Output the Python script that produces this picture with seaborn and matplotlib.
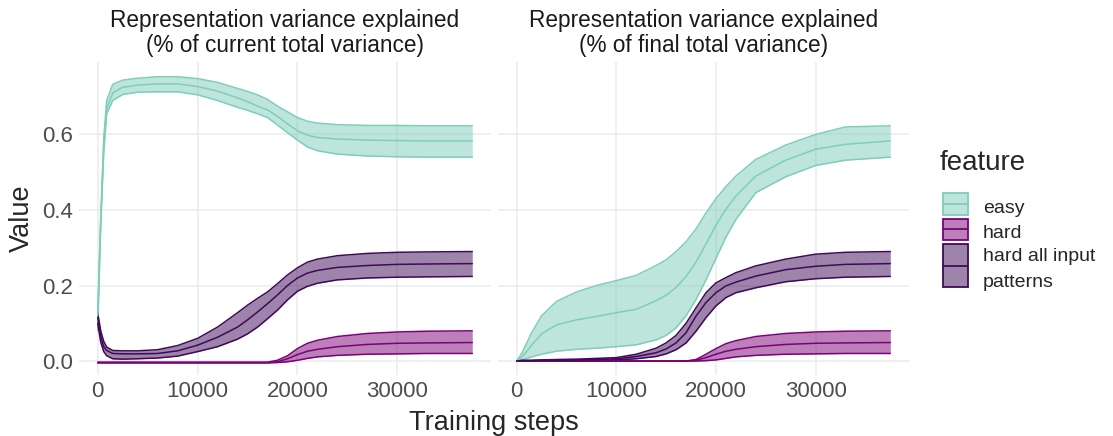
import numpy as np
import pandas as pd
import matplotlib
matplotlib.use("Agg")
import matplotlib.pyplot as plt
import seaborn as sns
from matplotlib.patches import Rectangle
from matplotlib.lines import Line2D
from matplotlib.colors import to_rgba

# Data
steps = [0, 300, 600, 900, 1500, 2500, 4000, 6000, 8000, 10000, 12000, 14000, 15000,
         16000, 17000, 18000, 19000, 20000, 21000, 22000, 24000, 27000, 30000, 33000, 37500]

features = ["easy", "hard", "hard all input\npatterns"]
panel_titles = ["Representation variance explained\n(% of current total variance)",
                "Representation variance explained\n(% of final total variance)"]

# panel 1: % of current total variance
cur_easy_mean = [0.12, 0.37, 0.57, 0.67, 0.71, 0.725, 0.731, 0.734, 0.734, 0.727, 0.715, 0.697, 0.687,
                 0.675, 0.665, 0.648, 0.628, 0.61, 0.598, 0.592, 0.588, 0.585, 0.584, 0.583, 0.583]
cur_easy_hi = [0.13, 0.38, 0.59, 0.69, 0.733, 0.744, 0.749, 0.753, 0.753, 0.748, 0.738, 0.722, 0.714,
               0.705, 0.693, 0.675, 0.66, 0.645, 0.635, 0.63, 0.626, 0.624, 0.624, 0.623, 0.623]
cur_easy_lo = [0.08, 0.36, 0.55, 0.655, 0.69, 0.706, 0.712, 0.713, 0.713, 0.705, 0.69, 0.672, 0.664,
               0.655, 0.645, 0.625, 0.605, 0.585, 0.567, 0.557, 0.548, 0.543, 0.541, 0.540, 0.540]

cur_hard_mean = [-0.004, -0.004, -0.004, -0.004, -0.004, -0.004, -0.004, -0.004, -0.004, -0.004, -0.004, -0.004, -0.004,
                 -0.004, -0.004, -0.002, 0.006, 0.017, 0.026, 0.031, 0.038, 0.044, 0.047, 0.048, 0.049]
cur_hard_hi = [-0.003, -0.003, -0.003, -0.003, -0.003, -0.003, -0.003, -0.003, -0.003, -0.003, -0.003, -0.003, -0.003,
               -0.003, -0.003, 0.002, 0.014, 0.033, 0.047, 0.055, 0.065, 0.073, 0.077, 0.079, 0.08]
cur_hard_lo = [-0.005, -0.005, -0.005, -0.005, -0.005, -0.005, -0.005, -0.005, -0.005, -0.005, -0.005, -0.005, -0.005,
               -0.005, -0.005, -0.004, -0.002, 0.002, 0.007, 0.011, 0.015, 0.018, 0.019, 0.02, 0.02]

cur_all_mean = [0.115, 0.065, 0.038, 0.028, 0.02, 0.019, 0.019, 0.02, 0.027, 0.042, 0.063, 0.09, 0.109,
                0.13, 0.152, 0.175, 0.2, 0.22, 0.233, 0.24, 0.248, 0.253, 0.256, 0.257, 0.258]
cur_all_hi = [0.127, 0.08, 0.052, 0.037, 0.028, 0.027, 0.027, 0.03, 0.041, 0.06, 0.09, 0.128, 0.148,
              0.166, 0.183, 0.205, 0.228, 0.247, 0.262, 0.27, 0.279, 0.285, 0.288, 0.289, 0.29]
cur_all_lo = [0.1, 0.05, 0.025, 0.014, 0.006, 0.005, 0.006, 0.008, 0.013, 0.025, 0.038, 0.058, 0.072,
              0.09, 0.112, 0.135, 0.162, 0.185, 0.198, 0.206, 0.215, 0.22, 0.222, 0.223, 0.224]

# panel 2: % of final total variance
fin_easy_mean = [0.0, 0.006, 0.013, 0.022, 0.042, 0.072, 0.096, 0.109, 0.118, 0.128, 0.137, 0.16, 0.174,
                 0.195, 0.224, 0.262, 0.31, 0.36, 0.402, 0.437, 0.49, 0.532, 0.561, 0.574, 0.583]
fin_easy_hi = [0.0, 0.012, 0.025, 0.042, 0.075, 0.12, 0.158, 0.183, 0.2, 0.213, 0.227, 0.253, 0.268,
               0.29, 0.316, 0.35, 0.392, 0.43, 0.462, 0.49, 0.534, 0.572, 0.6, 0.62, 0.623]
fin_easy_lo = [0.0, 0.002, 0.004, 0.006, 0.011, 0.018, 0.026, 0.031, 0.034, 0.038, 0.043, 0.056, 0.068,
               0.088, 0.12, 0.163, 0.215, 0.272, 0.328, 0.375, 0.446, 0.488, 0.518, 0.532, 0.54]

fin_hard_mean = [0.0, 0.0, 0.0, 0.0, 0.0, 0.0, 0.0, 0.0, 0.0, 0.0, 0.0, 0.0, 0.0,
                 0.0, 0.0, 0.002, 0.009, 0.018, 0.026, 0.031, 0.038, 0.044, 0.047, 0.048, 0.049]
fin_hard_hi = [0.0, 0.0, 0.0, 0.0, 0.0, 0.0, 0.0, 0.0, 0.0, 0.0, 0.0, 0.0, 0.0,
               0.0, 0.0, 0.004, 0.018, 0.033, 0.046, 0.054, 0.065, 0.073, 0.077, 0.079, 0.08]
fin_hard_lo = [0.0, 0.0, 0.0, 0.0, 0.0, 0.0, 0.0, 0.0, 0.0, 0.0, 0.0, 0.0, 0.0,
               0.0, 0.0, 0.0, 0.001, 0.003, 0.007, 0.011, 0.015, 0.018, 0.019, 0.02, 0.02]

fin_all_mean = [0.0, 0.001, 0.001, 0.001, 0.001, 0.002, 0.002, 0.003, 0.004, 0.006, 0.012, 0.022, 0.032,
                0.048, 0.075, 0.119, 0.155, 0.181, 0.199, 0.209, 0.225, 0.242, 0.251, 0.256, 0.258]
fin_all_hi = [0.0, 0.001, 0.002, 0.002, 0.002, 0.003, 0.004, 0.005, 0.007, 0.009, 0.018, 0.034, 0.048,
              0.068, 0.1, 0.141, 0.181, 0.207, 0.221, 0.234, 0.252, 0.27, 0.283, 0.288, 0.29]
fin_all_lo = [0.0, 0.0, 0.0, 0.0, 0.001, 0.001, 0.001, 0.001, 0.002, 0.003, 0.006, 0.012, 0.019,
              0.03, 0.048, 0.079, 0.115, 0.146, 0.168, 0.181, 0.194, 0.21, 0.218, 0.222, 0.224]

colors = {"easy": "#7fcdbb", "hard": "#7a0177", "hard all input\npatterns": "#3f0a58"}

panels = [
    {"easy": (cur_easy_mean, cur_easy_lo, cur_easy_hi),
     "hard": (cur_hard_mean, cur_hard_lo, cur_hard_hi),
     "hard all input\npatterns": (cur_all_mean, cur_all_lo, cur_all_hi)},
    {"easy": (fin_easy_mean, fin_easy_lo, fin_easy_hi),
     "hard": (fin_hard_mean, fin_hard_lo, fin_hard_hi),
     "hard all input\npatterns": (fin_all_mean, fin_all_lo, fin_all_hi)},
]

sns.set_style("white")
plt.rcParams["font.family"] = ["Liberation Sans", "DejaVu Sans"]

fig = plt.figure(figsize=(11.13, 4.36), dpi=100)
W, H = 1113, 436
ax_boxes = [[79 / W, 61 / H, 412 / W, 313 / H], [498 / W, 61 / H, 411 / W, 313 / H]]

for i, (box, pdata) in enumerate(zip(ax_boxes, panels)):
    ax = fig.add_axes(box)
    rows = []
    for feat in features:
        mean, lo, hi = pdata[feat]
        ax.fill_between(steps, lo, hi, color=colors[feat], alpha=0.5, linewidth=0, zorder=2)
        ax.plot(steps, lo, color=colors[feat], lw=1.1, zorder=3)
        ax.plot(steps, hi, color=colors[feat], lw=1.1, zorder=3)
        for s, m in zip(steps, mean):
            rows.append({"step": s, "value": m, "feature": feat})
    df = pd.DataFrame(rows)
    sns.lineplot(data=df, x="step", y="value", hue="feature", palette=colors,
                 legend=False, lw=1.1, ax=ax, zorder=4)
    ax.set_xlim(-1875, 39375)
    ax.set_ylim(-0.037, 0.792)
    ax.set_xticks([0, 10000, 20000, 30000])
    ax.set_yticks([0.0, 0.2, 0.4, 0.6])
    ax.grid(True, color="#ebebeb", lw=1.1, zorder=0)
    ax.set_axisbelow(True)
    for sp in ax.spines.values():
        sp.set_visible(False)
    ax.tick_params(axis="both", length=0, labelsize=16, labelcolor="#4d4d4d", pad=4)
    ax.set_xlabel("")
    ax.set_ylabel("")
    if i == 0:
        ax.set_yticklabels(["0.0", "0.2", "0.4", "0.6"])
    else:
        ax.set_yticklabels([])
    ax.set_title(panel_titles[i], fontsize=16.3, color="#1a1a1a", pad=7, linespacing=1.12)

fig.text(494 / W, 1 - 423 / H, "Training steps", fontsize=19.5, ha="center", va="center")
fig.text(22 / W, 1 - 218 / H, "Value", fontsize=19.5, ha="center", va="center", rotation=90)

# legend drawn by hand to get ggplot-style ribbon keys (tall key for two-line label)
fig.text(940 / W, 1 - 163 / H, "feature", fontsize=20, ha="left", va="center")
key_heights = [22, 21, 43]
y = 193
for feat, kh in zip(features, key_heights):
    c = colors[feat]
    fig.add_artist(Rectangle((943 / W, 1 - (y + kh) / H), 25 / W, kh / H,
                             facecolor=to_rgba(c, 0.5), edgecolor=c, lw=1.3,
                             transform=fig.transFigure))
    ym = 1 - (y + kh / 2) / H
    fig.add_artist(Line2D([943 / W, 968 / W], [ym, ym], color=c, lw=1.3,
                          transform=fig.transFigure))
    fig.text(983 / W, 1 - (y + kh / 2 + 4) / H, feat, fontsize=14, ha="left", va="center",
             linespacing=1.65)
    y += kh + 4

fig.savefig("out.png", dpi=100)
